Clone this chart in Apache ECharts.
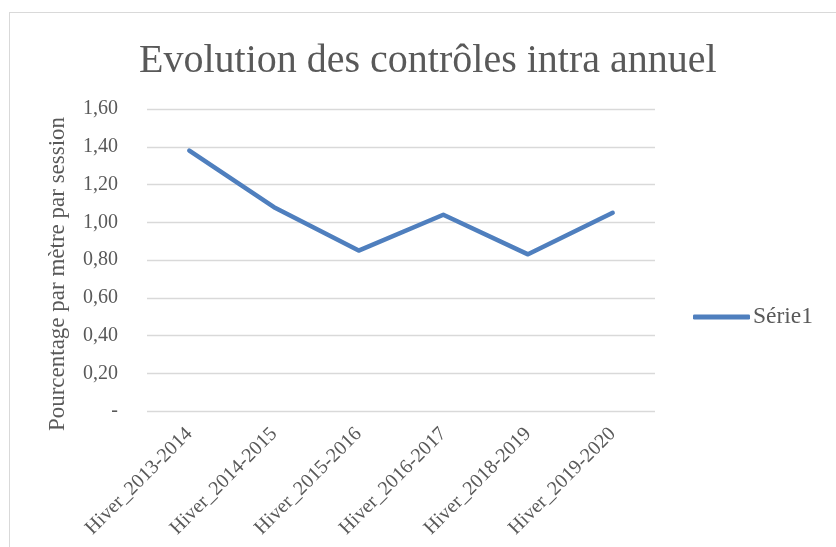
<!DOCTYPE html>
<html>
<head>
<meta charset="utf-8">
<script src="https://cdn.jsdelivr.net/npm/echarts@6/dist/echarts.min.js"></script>
<style>
  html, body { margin: 0; padding: 0; background: #fff; overflow: hidden; }
  #frame { position: absolute; left: 9px; top: 12px; width: 900px; height: 600px;
    border-left: 1px solid #d9d9d9; border-top: 1px solid #d9d9d9; }
  #chart { position: absolute; left: 0; top: 0; width: 836px; height: 547px; }
</style>
</head>
<body>
<div id="frame"></div>
<div id="chart"></div>
<script>
// Evolution des contrôles intra annuel — pourcentage par mètre par session
const saisons = ['Hiver_2013-2014', 'Hiver_2014-2015', 'Hiver_2015-2016',
  'Hiver_2016-2017', 'Hiver_2018-2019', 'Hiver_2019-2020']
const serie1 = [1.38, 1.08, 0.85, 1.04, 0.83, 1.05]

const police = "'Liberation Serif', serif"
const gris = '#595959'

const chart = echarts.init(document.getElementById('chart'))
chart.setOption({
  animation: false,
  title: {
    text: 'Evolution des contrôles intra annuel', left: 134, top: 36,
    textStyle: { fontFamily: police, fontSize: 40, fontWeight: 'normal', color: gris },
  },
  legend: {
    data: ['Série1'], left: 693, top: 305, padding: 0, itemWidth: 57, itemHeight: 5, itemGap: 4,
    icon: 'roundRect',
    textStyle: { fontFamily: police, fontSize: 23.5, color: gris, padding: [0, 0, 0, -2] },
  },
  grid: { left: 147, right: 181, top: 109, bottom: 136 },
  xAxis: {
    type: 'category', data: saisons, boundaryGap: true,
    axisLine: { show: false }, axisTick: { show: false },
    axisLabel: { rotate: 45, margin: 20, interval: 0, fontFamily: police, fontSize: 20, color: gris },
  },
  yAxis: {
    type: 'value', min: 0, max: 1.6, interval: 0.2,
    name: 'Pourcentage par mètre par session', nameLocation: 'middle', nameGap: 78,
    nameTextStyle: { fontFamily: police, fontSize: 23, color: gris, padding: [0, 28, 0, 0] },
    axisLine: { show: false }, axisTick: { show: false },
    axisLabel: {
      margin: 29, fontFamily: police, fontSize: 20, color: gris,
      formatter: (v) => (v === 0 ? '-' : v.toFixed(2).replace('.', ',')),
    },
    splitLine: { lineStyle: { color: '#d9d9d9', width: 1.3 } },
  },
  series: [{
    name: 'Série1', type: 'line', data: serie1, symbol: 'none',
    lineStyle: { color: '#4f7fbe', width: 4.5, cap: 'round', join: 'round' },
    itemStyle: { color: '#4f7fbe' },
  }],
})
</script>
</body>
</html>
